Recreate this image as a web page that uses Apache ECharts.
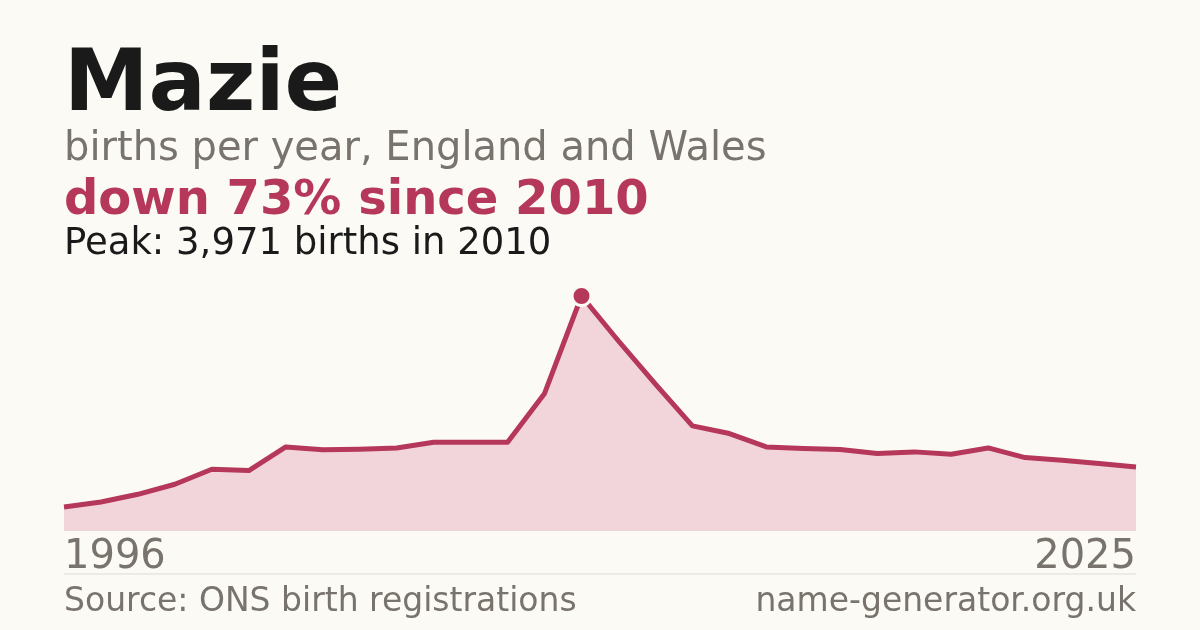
<!DOCTYPE html>
<html>
<head>
<meta charset="utf-8">
<script src="https://cdn.jsdelivr.net/npm/echarts@6/dist/echarts.min.js"></script>
<style>
  html, body { margin: 0; padding: 0; background: #fbfaf5; }
  #chart { width: 1200px; height: 630px; }
</style>
</head>
<body>
<div id="chart"></div>
<script>
// births per year
const years = [1996, 1997, 1998, 1999, 2000, 2001, 2002, 2003, 2004, 2005,
  2006, 2007, 2008, 2009, 2010, 2011, 2012, 2013, 2014, 2015,
  2016, 2017, 2018, 2019, 2020, 2021, 2022, 2023, 2024, 2025];
const births = [406, 491, 620, 790, 1043, 1021, 1421, 1371, 1382, 1404,
  1500, 1500, 1500, 2324, 3971, 3210, 2480, 1777, 1647, 1421,
  1393, 1376, 1309, 1337, 1297, 1404, 1241, 1196, 1139, 1083];
const tickLabels = ['1996', '2025'];

const peakVal = Math.max(...births);
const peakYear = years[births.indexOf(peakVal)];
const fontFamily = 'DejaVu Sans';
const red = '#b5385a';
const grey = '#78736c';

let myChart = echarts.init(document.getElementById('chart'));
let option = {
  backgroundColor: '#fbfaf5',
  animation: false,
  textStyle: { fontFamily: fontFamily },
  title: [
    {
      text: 'Mazie', left: 64, top: 45, padding: 0,
      textStyle: { fontSize: 85, fontWeight: 'bold', color: '#1a1a1a', fontFamily: fontFamily }
    },
    {
      text: 'births per year, England and Wales', left: 64, top: 130, padding: 0,
      textStyle: { fontSize: 40, fontWeight: 'normal', color: grey, fontFamily: fontFamily }
    },
    {
      text: 'down 73% since 2010', left: 64, top: 178, padding: 0,
      textStyle: { fontSize: 48, fontWeight: 'bold', color: red, fontFamily: fontFamily }
    },
    {
      text: 'Peak: ' + peakVal.toLocaleString('en-GB') + ' births in ' + peakYear, left: 64, top: 226, padding: 0,
      textStyle: { fontSize: 37, fontWeight: 'normal', color: '#1a1a1a', fontFamily: fontFamily }
    },
    {
      text: 'Source: ONS birth registrations', left: 64, top: 586, padding: 0,
      textStyle: { fontSize: 33, fontWeight: 'normal', color: grey, fontFamily: fontFamily }
    },
    {
      text: 'name-generator.org.uk', right: 64, top: 586, padding: 0,
      textStyle: { fontSize: 33, fontWeight: 'normal', color: grey, fontFamily: fontFamily }
    }
  ],
  grid: { left: 64, right: 64, top: 296, bottom: 99, containLabel: false },
  xAxis: {
    type: 'category',
    data: years.map(String),
    boundaryGap: false,
    axisLine: { show: false },
    axisTick: { show: false },
    axisLabel: {
      interval: 0,
      formatter: v => tickLabels.includes(v) ? v : '',
      alignMinLabel: 'left',
      alignMaxLabel: 'right',
      fontSize: 40,
      color: grey,
      margin: 7
    }
  },
  yAxis: {
    type: 'value',
    min: 0,
    max: peakVal,
    show: false,
    splitLine: { show: false }
  },
  series: [
    {
      type: 'line',
      data: births,
      symbol: 'none',
      lineStyle: { color: red, width: 5, join: 'round' },
      areaStyle: { color: '#f2d5db', opacity: 1 },
      markPoint: {
        silent: true,
        data: [{ coord: [String(peakYear), peakVal] }],
        symbol: 'circle',
        symbolSize: 19,
        itemStyle: { color: red, borderColor: '#fbfaf5', borderWidth: 3 },
        label: { show: false }
      }
    }
  ],
  graphic: [
    {
      type: 'line',
      shape: { x1: 64, y1: 574, x2: 1136, y2: 574 },
      style: { stroke: '#dedbd4', lineWidth: 1 }
    }
  ]
};
myChart.setOption(option);
</script>
</body>
</html>
